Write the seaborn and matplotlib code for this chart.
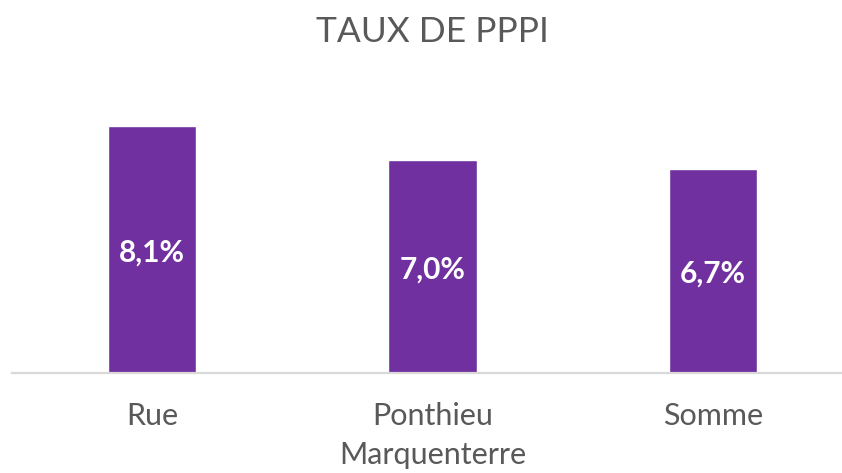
import matplotlib
matplotlib.use("Agg")
import matplotlib.pyplot as plt
import seaborn as sns
import pandas as pd

categories = ["Rue", "Ponthieu\nMarquenterre", "Somme"]
values = [8.1, 7.0, 6.7]
value_labels = ["8,1%", "7,0%", "6,7%"]
title = "TAUX DE PPPI"

sns.set_theme(style="white")
plt.rcParams["font.family"] = ["Lato", "DejaVu Sans"]

df = pd.DataFrame({"zone": categories, "taux": values})

fig = plt.figure(figsize=(8.42, 4.73), dpi=100)
ax = fig.add_axes([12 / 842, 100 / 473, 841 / 842, 274 / 473])

sns.barplot(data=df, x="zone", y="taux", color="#7030a0", saturation=1,
            width=0.314, ax=ax)

ax.set_xlim(-0.5, 2.5)
ax.set_ylim(0, 9)
ax.set_xlabel("")
ax.set_ylabel("")
ax.set_yticks([])
for side in ["top", "right", "left"]:
    ax.spines[side].set_visible(False)
ax.spines["bottom"].set_color("#d9d9d9")
ax.spines["bottom"].set_linewidth(1.6)
ax.tick_params(axis="x", length=0, pad=21, labelsize=22, labelcolor="#595959")
for lbl in ax.get_xticklabels():
    lbl.set_linespacing(1.45)
    lbl.set_verticalalignment("top")

# value labels sit slightly below the middle of each bar
for i, (v, t) in enumerate(zip(values, value_labels)):
    ax.annotate(t, (i, v / 2), xytext=(0, -3), textcoords="offset pixels",
                ha="center", va="center", color="white",
                fontsize=21.5, fontweight="bold")

fig.text(0.513, 1 - 32 / 473, title, ha="center", va="center",
         fontsize=25.5, color="#595959")

fig.savefig("out.png", dpi=100)
